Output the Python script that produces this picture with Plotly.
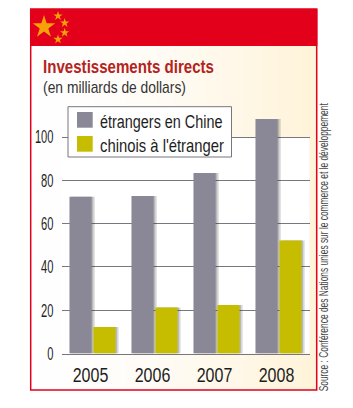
import json
import plotly.graph_objects as go

years = ["2005", "2006", "2007", "2008"]
etrangers = [72.4, 72.8, 83.4, 108.3]
chinois = [12.2, 21.2, 22.4, 52.2]
y_ticks = [0, 20, 40, 60, 80, 100]
series_names = ["étrangers en Chine", "chinois à l'étranger"]
title = "Investissements directs"
subtitle = "(en milliards de dollars)"
source = "Source : Conférence des Nations unies sur le commerce et le développement"

W, H = 353, 408
FONT = "Liberation Sans, Arial, sans-serif"
GREY, OLIVE, RED = "#8A8797", "#C6BC00", "#E2001A"
INK = "#1E1E1E"

# plot rectangle, pixels
L, R, T, B = 61.5, 309.5, 110.0, 353.5
px = lambda v: v / W
py = lambda v: 1 - v / H
YR = [0, (B - T) / 2.165]
shapes, annos = [], []


def rect(x0, x1, y0, y1, fill, layer="below", line=None):
    shapes.append(dict(type="rect", xref="paper", yref="paper", layer=layer,
                       x0=px(x0), x1=px(x1), y0=py(y1), y1=py(y0), fillcolor=fill,
                       line=line or dict(width=0)))


# cream gradient panel
N = 36
for i in range(N):
    x0 = 31 + (317 - 31) * i / N
    x1 = 31 + (317 - 31) * (i + 1) / N + 0.5
    t = (i / (N - 1)) ** 1.6
    rect(x0, x1, 46, 390, f"rgb(255,{int(255 - 12 * t)},{int(255 - 38 * t)})")
rect(L, R, 137, B, "white")
rect(30.7, 316.7, 9, 390, "rgba(0,0,0,0)", line=dict(color=RED, width=1.5))
rect(30, 317.4, 9, 46, RED)
# key
rect(68, 231.5, 106.7, 157, "white", "above", dict(color="#77777F", width=1))
rect(77, 92.7, 112, 127.7, GREY, "above")
rect(77, 92.7, 136, 151.7, OLIVE, "above")


def text(s, x, y, size, color=INK, anchor="left", angle=0):
    annos.append(dict(text=s, xref="paper", yref="paper", x=px(x), y=py(y),
                      xanchor=anchor, yanchor="middle", showarrow=False, textangle=angle,
                      font=dict(size=size, color=color, family=FONT)))


text(f"<b>{title}</b>", 41.3, 67, 18.5, "#B4231C")
text(subtitle, 41.3, 87, 16, "#333333")
text(series_names[0], 97.6, 121, 19)
text(series_names[1], 97.6, 145, 19)
text(source, 325, 247.5, 12, "#444444", "center", -90)

fig = go.Figure()
for ax, alpha in [("x", 0.16), ("x2", 0.22)]:
    for vals in (etrangers, chinois):
        fig.add_trace(go.Bar(x=years, y=vals, xaxis=ax, yaxis="y", showlegend=False, hoverinfo="skip",
                             marker=dict(color=f"rgba(50,50,50,{alpha})", line_width=0)))
fig.add_trace(go.Bar(x=years, y=etrangers, name=series_names[0], xaxis="x3", yaxis="y",
                     marker=dict(color=GREY, line_width=0)))
fig.add_trace(go.Bar(x=years, y=chinois, name=series_names[1], xaxis="x3", yaxis="y",
                     marker=dict(color=OLIVE, line_width=0)))

# flag stars
star_x = [44, 58, 64.7, 64.7, 58]
star_y = [27, 16, 23, 32.7, 39.3]
star_s = [17, 7, 7, 7, 7]
fig.add_trace(go.Scatter(x=[px(v) for v in star_x], y=[py(v) for v in star_y],
                         xaxis="x4", yaxis="y4", mode="markers", hoverinfo="skip", showlegend=False,
                         marker=dict(symbol="star", size=star_s, color="#FFE600", line_width=0)))

xdom = [px(L), px(R)]
cat = dict(type="category", categoryorder="array", categoryarray=years, fixedrange=True, automargin=False)
fig.update_layout(
    width=W, height=H, margin=dict(l=0, r=0, t=0, b=0, autoexpand=False),
    paper_bgcolor="white", plot_bgcolor="rgba(0,0,0,0)",
    barmode="group", bargap=0.23, bargroupgap=0.07,
    showlegend=False, shapes=shapes, annotations=annos,
    xaxis=dict(domain=xdom, range=[-0.5 - 3.2 / 62, 3.5 - 3.2 / 62], visible=False, **cat),
    xaxis2=dict(range=[-0.5 - 1.6 / 62, 3.5 - 1.6 / 62], overlaying="x", visible=False, **cat),
    xaxis3=dict(range=[-0.5, 3.5], overlaying="x", showgrid=False, showline=True, anchor="y",
                linecolor="#77777F", linewidth=1, ticks="", ticklabelstandoff=4,
                tickfont=dict(family=FONT, size=20, color=INK), **cat),
    xaxis4=dict(domain=[0, 1], range=[0, 1], visible=False, anchor="y4", fixedrange=True, automargin=False),
    yaxis=dict(domain=[py(B), py(T)], range=YR, tickvals=y_ticks, showline=False, zeroline=False,
               showgrid=True, gridcolor="#77777F", gridwidth=1, ticks="", ticklabelstandoff=7, automargin=False,
               tickfont=dict(family=FONT, size=18, color=INK), fixedrange=True),
    yaxis4=dict(domain=[0, 1], range=[0, 1], visible=False, anchor="x4", fixedrange=True, automargin=False),
)

# no narrow font is installed: condense the real text to the reference's widths
targets = {title: 171, subtitle: 143, series_names[0]: 122.5, series_names[1]: 124.5, source: 289}
left_anchored = [title, subtitle] + series_names
post = """
document.body.style.margin = '0';
var targets = %s, lefts = %s;
document.querySelectorAll('svg text').forEach(function (el) {
  var s = el.textContent.trim(); if (!s) return;
  var b = el.getBBox();
  var isYear = /^\\d{4}$/.test(s);
  var k = targets[s] ? targets[s] / b.width : (isYear ? 0.8 : 0.62);
  var a = el.getAttribute('text-anchor') || getComputedStyle(el).textAnchor;
  var o = a === 'end' ? b.x + b.width : (a === 'middle' ? b.x + b.width / 2 : b.x);
  if (lefts.indexOf(s) >= 0) o = b.x;
  var t = el.getAttribute('transform') || '';
  var nudge = isYear ? ' translate(-2,0)' : '';
  el.setAttribute('transform', t + nudge + ' translate(' + o + ',0) scale(' + k + ',1) translate(' + (-o) + ',0)');
});
""" % (json.dumps(targets), json.dumps(left_anchored))
fig.write_html("out.html", config=dict(displayModeBar=False), post_script=post)
